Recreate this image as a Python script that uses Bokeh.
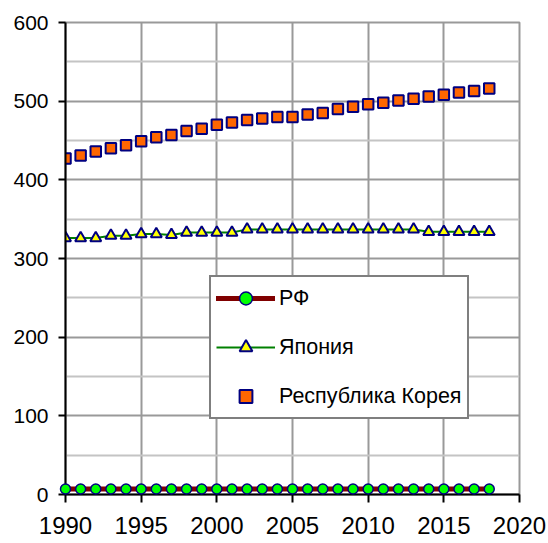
from bokeh.plotting import figure
from bokeh.models import Range1d, FixedTicker, Legend, LegendItem
from bokeh.embed import file_html
from bokeh.resources import INLINE

# ---- data ----
years = list(range(1990, 2019))
rf = [7] * 29
japan = [326, 326, 326, 329, 329, 331, 331, 330, 333, 333, 333, 333, 337, 337, 337,
         337, 337, 337, 337, 337, 337, 337, 337, 337, 334, 334, 334, 334, 334]
korea = [427, 431, 436, 440, 444, 449, 454, 457, 462, 465, 470, 473, 476, 478, 480,
         480, 483, 485, 490, 493, 496, 498, 501, 503, 506, 508, 511, 513, 516]
series_names = ["РФ", "Япония", "Республика Корея"]
x_ticks = [1990, 1995, 2000, 2005, 2010, 2015, 2020]
y_ticks = [0, 100, 200, 300, 400, 500, 600]
y_minor = [50, 150, 250, 350, 450, 550]

FONT = "Liberation Sans"

p = figure(width=547, height=543, output_backend="svg", toolbar_location=None,
           x_range=Range1d(1990, 2020), y_range=Range1d(0, 600),
           min_border_left=65, min_border_right=28, min_border_top=22, min_border_bottom=49)
p.background_fill_color = "white"
p.border_fill_color = "white"
p.outline_line_color = "#999999"
p.outline_line_width = 2

p.xaxis.ticker = FixedTicker(ticks=x_ticks)
p.yaxis.ticker = FixedTicker(ticks=y_ticks, minor_ticks=y_minor)
p.xgrid.ticker = FixedTicker(ticks=x_ticks)
p.ygrid.ticker = FixedTicker(ticks=y_ticks, minor_ticks=y_minor)

for ax in (p.xaxis[0], p.yaxis[0]):
    ax.axis_line_color = "black"
    ax.axis_line_width = 2
    ax.major_tick_line_color = "black"
    ax.major_tick_line_width = 2
    ax.major_tick_in = 0
    ax.minor_tick_in = 0
    ax.minor_tick_out = 0
    ax.major_label_text_font = FONT
    ax.major_label_text_color = "black"

p.xaxis.major_tick_out = 8
p.xaxis.major_label_standoff = 14
p.xaxis.major_label_text_font_size = "24px"
p.yaxis.major_tick_out = 7
p.yaxis.major_label_standoff = 10
p.yaxis.major_label_text_font_size = "21px"

p.xgrid.grid_line_color = "#999999"
p.xgrid.grid_line_width = 2
p.ygrid.grid_line_color = "#999999"
p.ygrid.grid_line_width = 2
p.ygrid.minor_grid_line_color = "#c4c4c4"
p.ygrid.minor_grid_line_width = 2

rf_line = p.line(years, rf, line_color="#800000", line_width=5, line_cap="round")
rf_pts = p.scatter(years, rf, marker="circle", size=10, fill_color="#00ff00",
                   line_color="#000080", line_width=1.5, level="overlay")
jp_line = p.line(years, japan, line_color="#008000", line_width=2)
jp_pts = p.scatter(years, japan, marker="triangle", size=11, fill_color="#ffff00",
                   line_color="#000080", line_width=2)
kr_pts = p.scatter(years, korea, marker="square", size=10.5, fill_color="#ff6600",
                   line_color="#000080", line_width=2)

legend = Legend(items=[
    LegendItem(label=series_names[0], renderers=[rf_line, rf_pts]),
    LegendItem(label=series_names[1], renderers=[jp_line, jp_pts]),
    LegendItem(label=series_names[2], renderers=[kr_pts]),
], location=(144, 75), margin=0, padding=5, spacing=17,
   glyph_width=59, glyph_height=32, label_height=32, label_standoff=4,
   border_line_color="black", border_line_width=2,
   background_fill_color="white", background_fill_alpha=1.0,
   label_text_font=FONT, label_text_font_size="21.5px", label_text_color="black")
p.add_layout(legend)

open("out.html", "w").write(file_html(p, INLINE))
